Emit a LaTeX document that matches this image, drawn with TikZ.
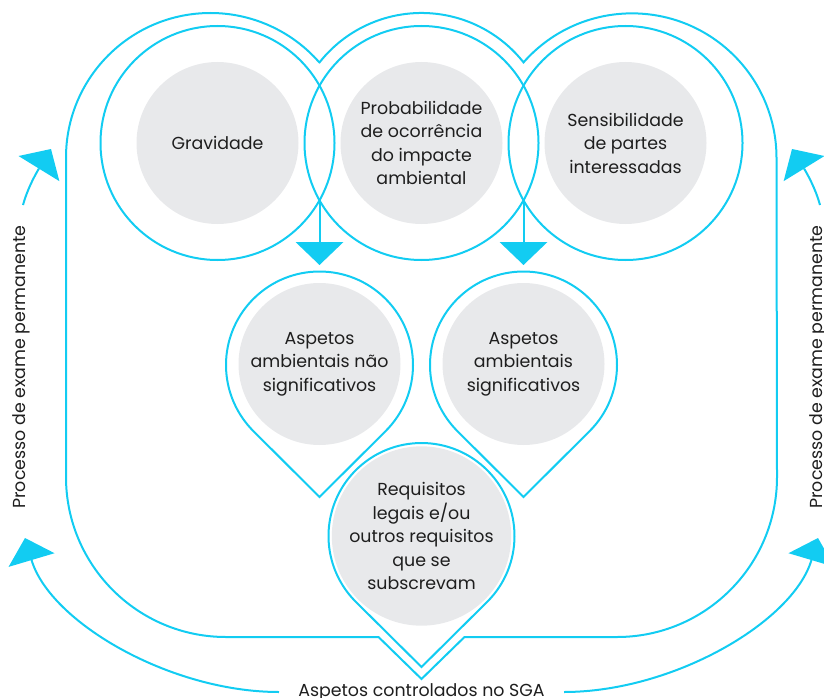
\documentclass[tikz,border=0pt]{standalone}
\usepackage{fontspec}
\setmainfont{Poppins}
\usetikzlibrary{arrows.meta}
\definecolor{cy}{RGB}{18,204,242}
\definecolor{diskgray}{RGB}{232,233,235}
\definecolor{ink}{RGB}{30,30,30}
\begin{document}
\begin{tikzpicture}[x=1pt,y=-1pt,
  line/.style={draw=cy,line width=2pt},
  ring/.style={circle,draw=cy,line width=2pt,minimum size=234pt,inner sep=0pt},
  disk/.style={circle,fill=diskgray,minimum size=162pt,inner sep=0pt,align=center,text=ink,font=\fontsize{17.4}{23.5}\selectfont},
  lbl/.style={text=ink,font=\fontsize{17.4}{20}\selectfont,inner sep=0pt},
  tipA/.style={-{Triangle[width=48pt,length=23pt,line width=0pt]}}]
\useasboundingbox (0,0) rectangle (824,698);
% outer contour
\draw[line] (319.5,62.4) arc[start angle=218.3,end angle=321.7,radius=130]
  arc[start angle=221.35,end angle=360,radius=144.5]
  -- (777,477) arc[start angle=0,end angle=90,radius=160]
  -- (464.5,637) -- (421.5,679) -- (378.5,637) -- (226,637)
  arc[start angle=90,end angle=180,radius=160]
  -- (66,157.5) arc[start angle=180,end angle=318.65,radius=144.5] -- cycle;
% top rings and disks
\node[ring] (r1) at (217.5,143) {};
\node[ring] (r2) at (421.5,143) {};
\node[ring] (r3) at (625.5,143) {};
\node[disk] (g) at (217.5,143) {Gravidade};
\node[disk] (p) at (421.5,143) {Probabilidade\\de ocorrência\\do impacte\\ambiental};
\node[disk] (s) at (625.5,143) {Sensibilidade\\de partes\\interessadas};
% pins
\coordinate (cA) at (319.5,365);
\coordinate (cB) at (523.5,365);
\coordinate (cC) at (421.5,536);
\draw[line] (cA) ++(45.1:93.5) arc[start angle=45.1,end angle=-225.1,radius=93.5] -- (319.5,497) -- cycle;
\draw[line] (cB) ++(45.1:93.5) arc[start angle=45.1,end angle=-225.1,radius=93.5] -- (523.5,497) -- cycle;
\draw[line] (cC) ++(45.2:93) arc[start angle=45.2,end angle=-225.2,radius=93] -- (421.5,667) -- cycle;
\node[disk] (na) at (319.5,364) {Aspetos\\ambientais não\\significativos};
\node[disk] (sa) at (523.5,364) {Aspetos\\ambientais\\significativos};
\node[disk] (rq) at (421.5,536) {Requisitos\\legais e/ou\\outros requisitos\\que se\\subscrevam};
% down arrows
\coordinate (i1) at (319.5,200.3);
\coordinate (i2) at (523.5,200.3);
\coordinate (tA) at (319.5,265);
\coordinate (tB) at (523.5,265);
\draw[line,tipA] (i1) -- (tA);
\draw[line,tipA] (i2) -- (tB);
% side labels
\node[lbl,rotate=90] (pl) at (21,367) {Processo de exame permanente};
\node[lbl,rotate=90] (pr) at (818,367) {Processo de exame permanente};
\node[lbl,anchor=base] (sga) at (421.5,696) {Aspetos controlados no SGA};
% side arrows
\coordinate (ul0) at (23,205);
\coordinate (ul1) at (51,149);
\coordinate (ur0) at (820,205);
\coordinate (ur1) at (792,149);
\coordinate (bl0) at (279,692);
\coordinate (bl1) at (25,538);
\coordinate (br0) at (564,692);
\coordinate (br1) at (818,538);
\draw[line,tipA] (ul0) .. controls (27,190) and (35,175) .. (ul1);
\draw[line,tipA] (ur0) .. controls (816,190) and (808,175) .. (ur1);
\draw[line,tipA] (bl0) .. controls (170,692) and (50,622) .. (bl1);
\draw[line,tipA] (br0) .. controls (673,692) and (793,622) .. (br1);
\end{tikzpicture}
\end{document}
